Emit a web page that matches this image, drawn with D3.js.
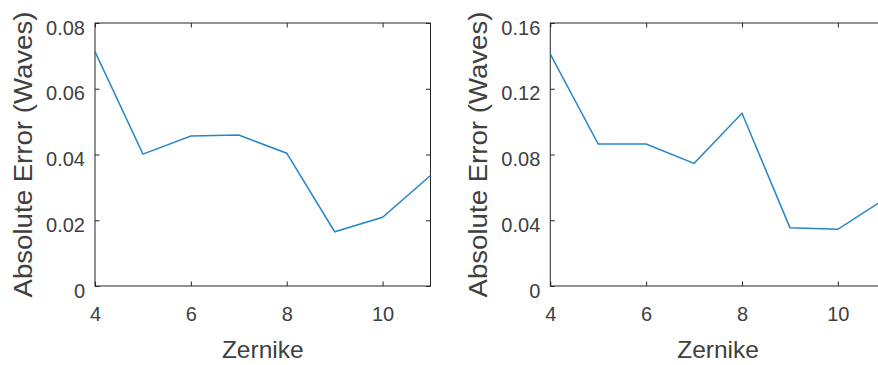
<!DOCTYPE html>
<html><head><meta charset="utf-8">
<script src="https://cdn.jsdelivr.net/npm/d3@7"></script>
<style>body{margin:0;background:#fff}svg{display:block}</style>
</head><body>
<svg id="c" width="878" height="365"></svg>
<script>
const zernike = [4,5,6,7,8,9,10,11];
const errLeft = [0.0713,0.0401,0.0456,0.0459,0.0404,0.0165,0.0209,0.0336];
const errRight = [0.1411,0.0864,0.0864,0.0746,0.1051,0.0355,0.0345,0.0534];
const xTicks = [4,6,8,10];
const yTicksLeft = [0,0.02,0.04,0.06,0.08];
const yTicksRight = [0,0.04,0.08,0.12,0.16];
const xLabel = "Zernike";
const yLabel = "Absolute Error (Waves)";

const svg = d3.select("#c");
const font = "'Liberation Sans', Arial, sans-serif";
const axisColor = "#262626";
const textColor = "#404040";

function panel(left, values, yMax, yTicks) {
  const top = 23, bottom = 286, width = 335.5;
  const x = d3.scaleLinear().domain([4,11]).range([left, left+width]);
  const y = d3.scaleLinear().domain([0,yMax]).range([bottom, top]);
  const g = svg.append("g");
  const tl = 4.5;
  const fmt = d => d === 0 ? "0" : d3.format(".2f")(d);

  const ax = g.append("g").attr("transform",`translate(0,${bottom})`)
    .call(d3.axisBottom(x).tickValues(xTicks).tickSize(-tl).tickPadding(10).tickFormat(d3.format("d")));
  const axT = g.append("g").attr("transform",`translate(0,${top})`)
    .call(d3.axisTop(x).tickValues(xTicks).tickSize(-tl).tickFormat(""));
  const ay = g.append("g").attr("transform",`translate(${left},0)`)
    .call(d3.axisLeft(y).tickValues(yTicks).tickSize(-tl).tickPadding(10).tickFormat(fmt));
  const ayR = g.append("g").attr("transform",`translate(${left+width},0)`)
    .call(d3.axisRight(y).tickValues(yTicks).tickSize(-tl).tickFormat(""));
  [ax,axT,ay,ayR].forEach(a=>{
    a.select(".domain").remove();
    a.selectAll(".tick line").attr("stroke",axisColor).attr("stroke-width",1);
    a.selectAll(".tick text").attr("fill",textColor).style("font-family",font).style("font-size","20px");
  });
  ax.selectAll(".tick text").attr("y",35).attr("dy",0);
  ay.selectAll(".tick text").attr("dy","0.56em");
  g.append("rect").attr("x",left).attr("y",top).attr("width",width).attr("height",bottom-top)
    .attr("fill","none").attr("stroke",axisColor).attr("stroke-width",1);

  const line = d3.line().x((d,i)=>x(zernike[i])).y(d=>y(d));
  g.append("path").datum(values).attr("d",line).attr("fill","none")
    .attr("stroke","#0072BD").attr("stroke-width",1.5).attr("opacity",0.85);

  g.append("text").attr("x",left+width/2).attr("y",358).attr("text-anchor","middle")
    .attr("fill",textColor).style("font-family",font).style("font-size","24.5px").text(xLabel);
  g.append("text").attr("transform",`translate(${left-63.5},${(top+bottom)/2}) rotate(-90)`)
    .attr("text-anchor","middle").attr("textLength",286).attr("lengthAdjust","spacingAndGlyphs")
    .attr("fill",textColor).style("font-family",font).style("font-size","25.5px").text(yLabel);
}
panel(95, errLeft, 0.08, yTicksLeft);
panel(550.3, errRight, 0.16, yTicksRight);
</script>
</body></html>
